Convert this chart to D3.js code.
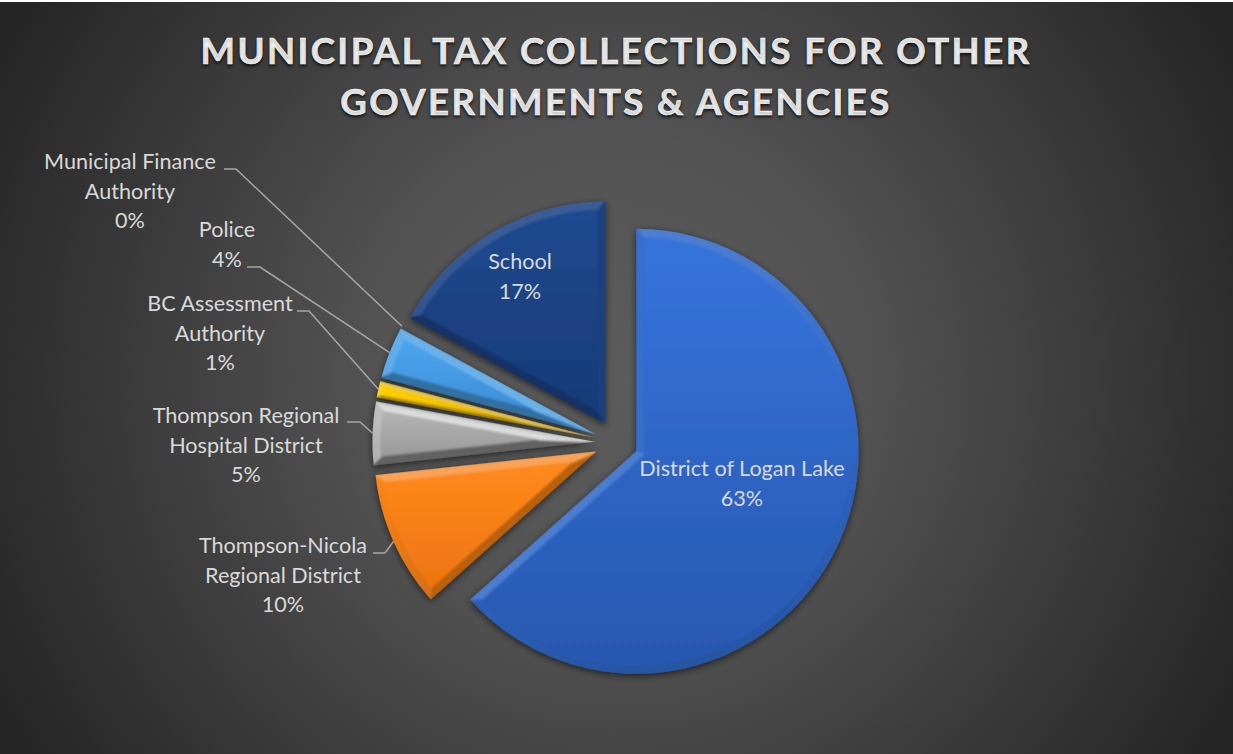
<!DOCTYPE html>
<html>
<head>
<meta charset="utf-8">
<script src="https://cdn.jsdelivr.net/npm/d3@7"></script>
<style>
  html, body { margin: 0; padding: 0; background: #fff; }
  svg { display: block; }
  text { font-family: Lato, "Open Sans", sans-serif; }
  .chart-title { font-size: 36.5px; font-weight: 700; fill: #f7f7f7; stroke: #f7f7f7; stroke-width: 0.6; letter-spacing: 2.45px; text-shadow: 0 2px 3px rgba(0,0,0,.7); }
  .slice-label { font-size: 21.6px; fill: #d9d9d9; }
  .leader { fill: none; stroke: #a6a6a6; stroke-width: 1.5; }
</style>
</head>
<body>
<svg id="chart" width="1233" height="754"></svg>
<script>
// Data, clockwise from 12 o'clock
const categories = ["District of Logan Lake", "Thompson-Nicola Regional District", "Thompson Regional Hospital District",
  "BC Assessment Authority", "Police", "Municipal Finance Authority", "School"];
const shares = [63.4, 9.9, 4.6, 1.2, 3.8, 0.01, 17.09];
const titleLines = ["MUNICIPAL TAX COLLECTIONS FOR OTHER", "GOVERNMENTS & AGENCIES"];

// Colours: face top, face bottom, how hard the bevel lights up / darkens
const faceTop = ["#3674dc", "#ff8a1c", "#b4b4b4", "#ffd400", "#4ba6ee", "#2a66c0", "#1f4a90"];
const faceBottom = ["#2858b0", "#ee7410", "#9a9a9a", "#f0b800", "#3f8fd8", "#2a66c0", "#173b78"];
const bevelLight = [0.16, 0.28, 0.7, 0.45, 0.28, 0.2, 0.14];
const bevelDark = [0.2, 0.3, 0.45, 0.4, 0.35, 0.3, 0.35];

// Layout
const W = 1233, H = 754;
const cx = 616.5, cy = 442.5, R = 222.5, explode = 21.5, bevel = 8;

// Label text: line breaks + centre x + first baseline, and leader elbow
const labelLines = [["District of Logan Lake"], ["Thompson-Nicola", "Regional District"], ["Thompson Regional", "Hospital District"],
  ["BC Assessment", "Authority"], ["Police"], ["Municipal Finance", "Authority"], ["School"]];
const labelPos = [[742, 476], [283, 553], [246, 423], [220, 311], [227, 237], [130, 169], [520, 269]];
const leaderFrom = [null, [373, 553, 385], [347, 422, 360], [297, 311, 309], [247, 267, 260], [224, 169, 236], null];

const svg = d3.select("#chart");
const defs = svg.append("defs");

// ── Background ──────────────────────────────
const bg = defs.append("radialGradient").attr("id", "bg").attr("gradientUnits", "userSpaceOnUse")
  .attr("cx", 616).attr("cy", 377).attr("r", 690);
bg.append("stop").attr("offset", 0).attr("stop-color", "#5c5c5c");
bg.append("stop").attr("offset", 0.35).attr("stop-color", "#535353");
bg.append("stop").attr("offset", 1).attr("stop-color", "#262626");
svg.append("rect").attr("width", W).attr("height", H).attr("fill", "url(#bg)");
svg.append("rect").attr("width", W).attr("height", 2).attr("fill", "#fff");

const shadow = defs.append("filter").attr("id", "shadow")
  .attr("x", "-20%").attr("y", "-20%").attr("width", "140%").attr("height", "140%");
shadow.append("feDropShadow").attr("dx", 0).attr("dy", 2).attr("stdDeviation", 3.5)
  .attr("flood-color", "#000").attr("flood-opacity", 0.6);
defs.append("filter").attr("id", "soft").append("feGaussianBlur").attr("stdDeviation", 0.9);

// ── Title ───────────────────────────────────
svg.selectAll(".chart-title").data(titleLines).join("text")
  .attr("class", "chart-title").attr("text-anchor", "middle")
  .attr("x", 616).attr("y", (d, i) => 64 + i * 51).text(d => d);

// ── Pie ─────────────────────────────────────
const pie = d3.pie().sort(null).value(d => d)(shares);
const arc = d3.arc().innerRadius(0).outerRadius(R);
const line = d3.line();
const total = d3.sum(shares);
const pct = d3.format(".0%");

// top light, a touch from the left
const lit = (nx, ny) => -ny * 0.92 - nx * 0.2;
const shade = (i, nx, ny) => {
  const t = lit(nx, ny), base = d3.interpolateRgb(faceTop[i], faceBottom[i])(0.4);
  return t > 0 ? d3.interpolateRgb(base, "#fff")(t * bevelLight[i]) : d3.interpolateRgb(base, "#000")(-t * bevelDark[i]);
};

pie.forEach((d, i) => {
  const a0 = d.startAngle, a1 = d.endAngle, mid = (a0 + a1) / 2, half = (a1 - a0) / 2;
  const ax = cx + explode * Math.sin(mid), ay = cy - explode * Math.cos(mid);
  const at = (th, r) => [ax + r * Math.sin(th), ay - r * Math.cos(th)];
  d.apex = [ax, ay];
  d.rim = at(mid, R);

  defs.append("clipPath").attr("id", "clip" + i).append("path")
    .attr("transform", `translate(${ax},${ay})`).attr("d", arc(d));
  const g = svg.append("g").attr("filter", "url(#shadow)")
    .append("g").attr("clip-path", `url(#clip${i})`)
    .append("g").attr("filter", "url(#soft)");

  const grad = defs.append("linearGradient").attr("id", "face" + i).attr("x1", 0).attr("x2", 0).attr("y1", 0).attr("y2", 1);
  grad.append("stop").attr("offset", 0).attr("stop-color", faceTop[i]);
  grad.append("stop").attr("offset", 1).attr("stop-color", faceBottom[i]);

  g.append("path").attr("transform", `translate(${ax},${ay})`).attr("d", arc(d)).attr("fill", faceBottom[i]);

  // chamfer: inset outline, then quads between outline and inset
  const w = Math.min(bevel, 0.35 * R * Math.sin(half));
  const innerR = R - w, dA = Math.asin(w / innerR);
  const steps = Math.max(2, Math.ceil((a1 - a0) / 0.04));
  const outer = d3.range(steps + 1).map(k => at(a0 + (a1 - a0) * k / steps, R + 3));
  const inner = d3.range(steps + 1).map(k => at(a0 + dA + (a1 - a0 - 2 * dA) * k / steps, innerR));
  const innerApex = at(mid, w / Math.sin(half));

  const quad = (pts, nx, ny) => g.append("path").attr("d", line(pts) + "Z")
    .attr("fill", shade(i, nx, ny)).attr("stroke", shade(i, nx, ny)).attr("stroke-width", 1.5);

  quad([d.apex, outer[0], inner[0], innerApex], -Math.cos(a0), -Math.sin(a0));
  quad([d.apex, outer[steps], inner[steps], innerApex], Math.cos(a1), Math.sin(a1));
  d3.range(steps).forEach(k => {
    const th = a0 + (a1 - a0) * (k + 0.5) / steps;
    quad([outer[k], outer[k + 1], inner[k + 1], inner[k]], Math.sin(th), -Math.cos(th));
  });

  g.append("path").attr("d", line([innerApex, ...inner]) + "Z").attr("fill", `url(#face${i})`);
});

// ── Leaders ─────────────────────────────────
pie.forEach((d, i) => {
  if (!leaderFrom[i]) return;
  const [x0, y0, x1] = leaderFrom[i];
  svg.append("path").attr("class", "leader").attr("d", line([[x0, y0], [x1, y0], d.rim]));
});

// ── Labels ──────────────────────────────────
pie.forEach((d, i) => {
  const t = svg.append("text").attr("class", "slice-label").attr("text-anchor", "middle");
  [...labelLines[i], pct(shares[i] / total)].forEach((s, k) => {
    t.append("tspan").attr("x", labelPos[i][0]).attr("y", labelPos[i][1] + k * 29.5).text(s);
  });
});
</script>
</body>
</html>
